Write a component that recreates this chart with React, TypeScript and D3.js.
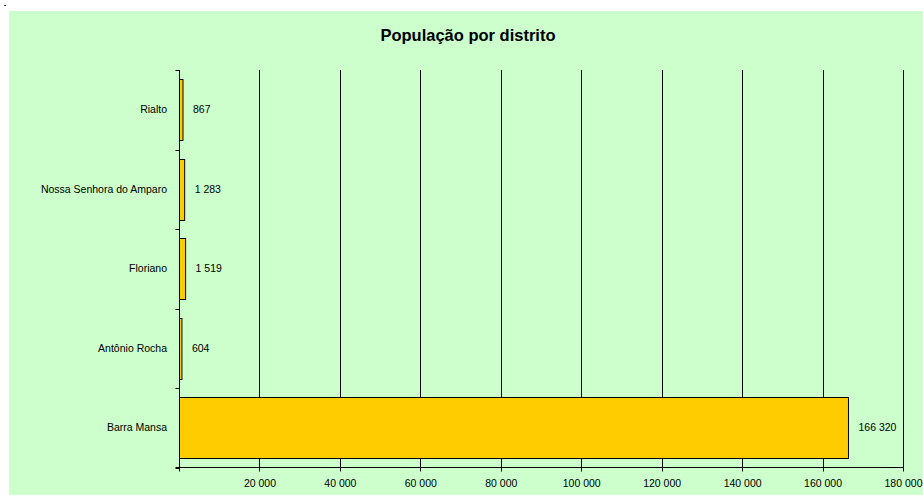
import React from "react";
import * as d3 from "d3";

const categories = ["Rialto", "Nossa Senhora do Amparo", "Floriano", "Antônio Rocha", "Barra Mansa"];
const values = [867, 1283, 1519, 604, 166320];
const xTicks = [20000, 40000, 60000, 80000, 100000, 120000, 140000, 160000, 180000];
const title = "População por distrito";

const W = 923;
const H = 495;
const FONT = "'Liberation Sans', Arial, sans-serif";

const fmt = (v: number) => d3.format(",")(v).replace(/,/g, " ");

export default function App() {
  const left = 179.5;
  const right = 903.5;
  const top = 70;
  const bottom = 467.5;
  const x = d3.scaleLinear().domain([0, 180000]).range([left, right]);
  const y = d3
    .scaleBand<string>()
    .domain(categories)
    .range([top, bottom])
    .paddingInner(0.228)
    .paddingOuter(0.114);
  const step = y.step();
  const px = (v: number) => Math.round(x(v) - 0.5) + 0.5;

  return (
    <svg
      width={W}
      height={H}
      style={{ position: "fixed", left: 0, top: 0, display: "block" }}
      fontFamily={FONT}
    >
      <rect x={0} y={0} width={W} height={H} fill="#ffffff" />
      <rect x={4} y={5} width={2} height={1} fill="#333" />
      <rect x={9} y={11} width={W - 9} height={H - 11} fill="#CCFFCC" />
      <text
        x={468}
        y={41}
        textAnchor="middle"
        fontSize={16.5}
        fontWeight="bold"
        fill="#000"
      >
        {title}
      </text>
      {/* gridlines */}
      {xTicks.map((t) => (
        <line key={"g" + t} x1={px(t)} x2={px(t)} y1={top} y2={bottom} stroke="#000" strokeWidth={1} />
      ))}
      {/* bars */}
      {categories.map((c, i) => {
        const by = y(c)!;
        const bh = y.bandwidth();
        const x0 = left;
        const x1 = x(values[i]);
        return (
          <g key={c}>
            <rect
              x={x0}
              y={Math.round(by) + 0.5}
              width={Math.max(1, x1 - x0)}
              height={Math.round(bh)}
              fill="#FFCC00"
              stroke="#000"
              strokeWidth={1}
            />
            <text
              x={x1 + 10}
              y={by + bh / 2}
              dy="0.35em"
              fontSize={10.5}
              fill="#000"
            >
              {fmt(values[i])}
            </text>
            <text
              x={167}
              y={by + bh / 2}
              dy="0.35em"
              fontSize={10.5}
              textAnchor="end"
              fill="#000"
            >
              {c}
            </text>
          </g>
        );
      })}
      {/* y axis */}
      <line x1={left} x2={left} y1={top} y2={bottom} stroke="#000" />
      {d3.range(categories.length + 1).map((i) => {
        const yy = Math.round(top + i * step) + 0.5;
        return <line key={"yt" + i} x1={left - 4} x2={left} y1={yy} y2={yy} stroke="#000" />;
      })}
      {/* x axis */}
      <line x1={left - 4} x2={right} y1={bottom} y2={bottom} stroke="#000" />
      {[0, ...xTicks].map((t) => (
        <line key={"xt" + t} x1={px(t)} x2={px(t)} y1={bottom} y2={bottom + 4} stroke="#000" />
      ))}
      {xTicks.map((t) => (
        <text
          key={"xl" + t}
          x={x(t)}
          y={483}
          dy="0.35em"
          textAnchor="middle"
          fontSize={10.5}
          fill="#000"
        >
          {fmt(t)}
        </text>
      ))}
    </svg>
  );
}
